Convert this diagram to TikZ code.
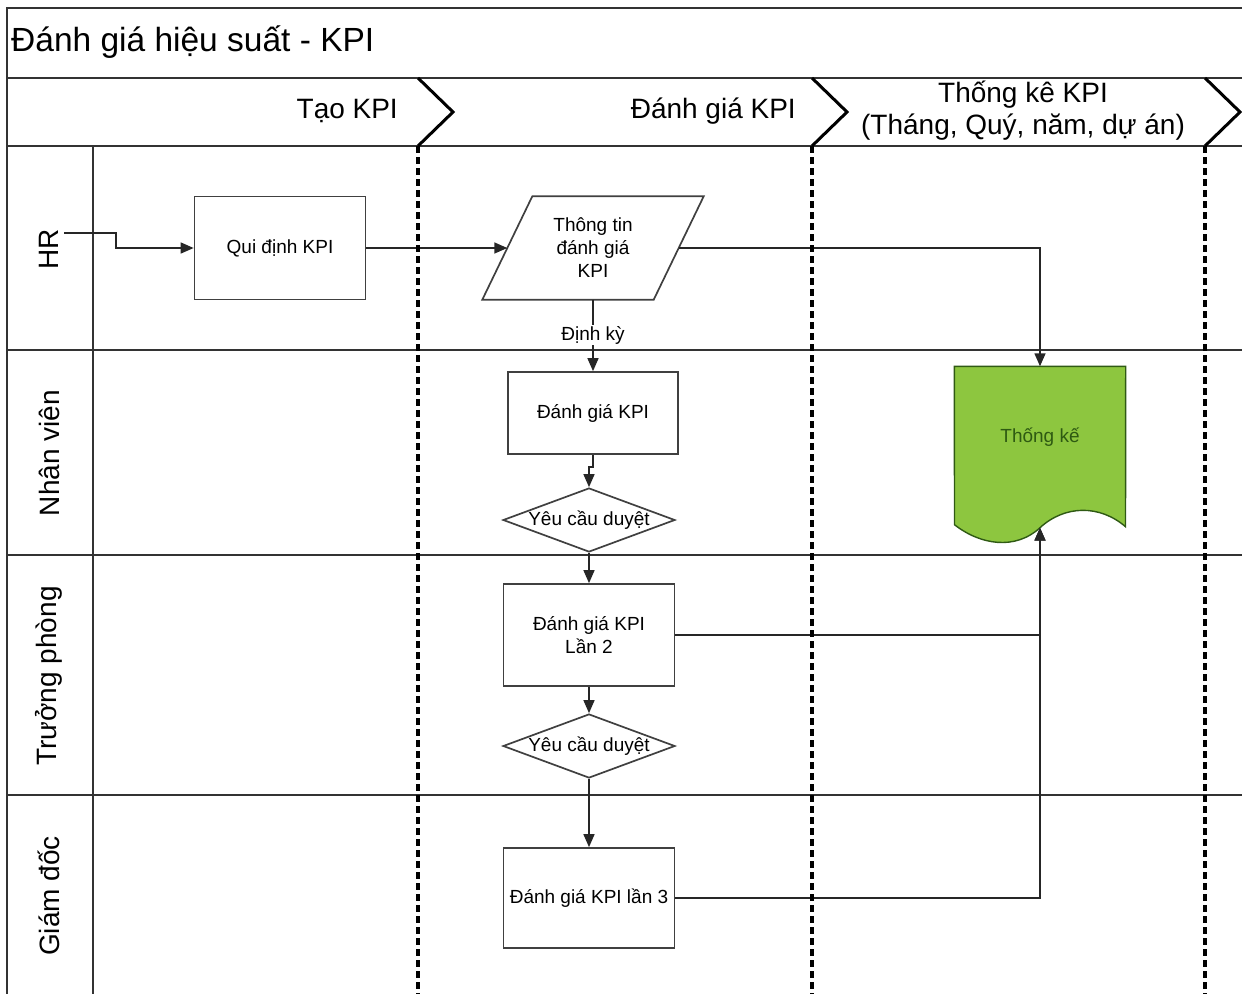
\documentclass[tikz,border=0pt]{standalone}
\usepackage{fontspec}
\setmainfont{Liberation Sans}
\usetikzlibrary{arrows.meta}
\usetikzlibrary{shapes.geometric}
\usetikzlibrary{calc}

\definecolor{docgreen}{HTML}{8DC63F}
\definecolor{docline}{HTML}{2F5A14}
\definecolor{doctext}{HTML}{2E5A12}

\tikzset{
  frame/.style={draw=black!80, line width=2.4pt},
  phase/.style={line width=3.6pt, dash pattern=on 7pt off 4pt},
  chev/.style={line width=3pt, line join=miter},
  small/.style={font=\fontsize{19}{23}\selectfont},
  box/.style={small, draw=black!75, line width=1.7pt, fill=white, align=center, inner sep=2pt},
  decision/.style={diamond, draw=black!75, line width=1.7pt, fill=white, inner sep=0pt,
    minimum width=172pt, minimum height=64pt, label={[small]center:#1}},
  arr/.style={draw=black!85, line width=1.5pt, -{Triangle[length=13pt,width=11pt]}},
  hdr/.style={font=\fontsize{28}{32}\selectfont, inner sep=0pt},
  lane/.style={hdr, rotate=90},
}

\begin{document}
\begin{tikzpicture}[x=1pt,y=-1pt]
  \useasboundingbox (0,0) rectangle (1242,994);

  % pool
  \draw[frame] (1242,8) -- (7,8) -- (7,994);
  \foreach \y in {78,146,350,555,795}
    \draw[frame] (7,\y) -- (1242,\y);
  \draw[frame] (93,146) -- (93,994);

  \node[anchor=west, inner sep=0pt, font=\fontsize{33.5}{38}\selectfont] (title) at (11,42) {Đánh giá hiệu suất - KPI};
  \node[hdr, anchor=east] (ph1) at (398,111) {Tạo KPI};
  \node[hdr, anchor=east] (ph2) at (796,111) {Đánh giá KPI};
  \node[hdr, align=center] (ph3) at (1023,111) {Thống kê KPI\\(Tháng, Quý, năm, dự án)};

  \foreach \n/\y [count=\i] in {HR/249, Nhân viên/453, Trưởng phòng/676, Giám đốc/896}
    \node[lane] (lane\i) at (49,\y) {\n};

  % steps
  \node[box, minimum width=171pt, minimum height=103pt] (qui) at (280,248) {Qui định KPI};
  \node[small, align=center, inner sep=0pt, minimum width=171pt, minimum height=103pt] (info) at (593,248) {Thông tin\\đánh giá\\KPI};
  \draw[draw=black!75, line width=1.7pt] ([xshift=-25pt]info.south west) -- ([xshift=-25pt]info.south east)
    -- ([xshift=25pt]info.north east) -- ([xshift=25pt]info.north west) -- cycle;
  \node[box, minimum width=170pt, minimum height=82pt] (eval1) at (593,413) {Đánh giá KPI};
  \node[decision=Yêu cầu duyệt] (dia1) at (589,520) {};
  \node[box, minimum width=171pt, minimum height=102pt] (eval2) at (589,635) {Đánh giá KPI\\Lần 2};
  \node[decision=Yêu cầu duyệt] (dia2) at (589,746) {};
  \node[box, minimum width=171pt, minimum height=100pt] (eval3) at (589,898) {Đánh giá KPI lần 3};

  % document
  \node[minimum width=171pt, minimum height=161pt] (stat) at (1040,447) {};
  \filldraw[fill=docgreen, draw=docline, line width=1.4pt] (stat.north west) -- (stat.north east)
    -- ($(stat.south)+(85.5,-1)$) .. controls ($(stat.south)+(60,-23)$) and ($(stat.south)+(25,-23)$) .. (stat.south)
    .. controls ($(stat.south)+(-25,23)$) and ($(stat.south)+(-60,17)$) .. ($(stat.south)+(-85.5,-3)$) -- cycle;
  \node[small, text=doctext] (statlbl) at ($(stat.center)+(0,-10)$) {Thống kế};

  % flow
  \coordinate (hrin) at (64,233);
  \draw[arr] (hrin) -- ++(52,0) |- (qui.west);
  \draw[arr] (qui.east) -- (info.west);
  \draw[arr] (info.east) -| (stat.north);
  \draw[arr] (info.south) -- node[small, fill=white, inner sep=1pt] (dk) {Định kỳ} (eval1.north);
  \draw[arr] (eval1.south) -- ++(0,12) -| (dia1.north);
  \draw[arr] (dia1.south) -- (eval2.north);
  \draw[arr] (eval2.south) -- (dia2.north);
  \draw[arr] (dia2.south) -- (eval3.north);
  \draw[arr] (eval2.east) -| (stat.south);
  \draw[arr] (eval3.east) -| (stat.south);

  % phases
  \foreach \x in {418,812,1205} {
    \draw[phase] (\x,146) -- (\x,994);
    \draw[chev] (\x,78) -- (\x+35,112) -- (\x,146);
  }
\end{tikzpicture}
\end{document}
